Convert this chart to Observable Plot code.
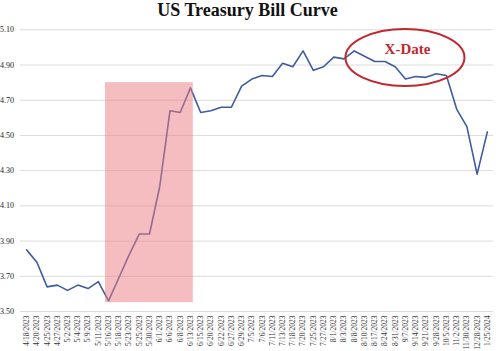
<!DOCTYPE html>
<html><head><meta charset="utf-8">
<script src="https://cdn.jsdelivr.net/npm/d3@7"></script>
<script src="https://cdn.jsdelivr.net/npm/@observablehq/plot@0.6"></script>
<style>
body{margin:0;background:#fff;}
#wrap{width:500px;height:351px;position:relative;overflow:hidden;}
#title{height:22px;font:bold 18px "Liberation Serif",serif;line-height:20px;text-align:center;padding-right:5px;color:#111;}
</style></head><body>
<div id="wrap"><div id="title">US Treasury Bill Curve</div><div id="chart"></div></div>
<script>
const maturities = ["4/18/2023","4/20/2023","4/25/2023","4/27/2023","5/2/2023","5/4/2023","5/9/2023","5/11/2023","5/16/2023","5/18/2023","5/23/2023","5/25/2023","5/30/2023","6/1/2023","6/6/2023","6/8/2023","6/13/2023","6/15/2023","6/20/2023","6/22/2023","6/27/2023","6/29/2023","7/5/2023","7/6/2023","7/11/2023","7/13/2023","7/18/2023","7/20/2023","7/25/2023","7/27/2023","8/1/2023","8/3/2023","8/8/2023","8/10/2023","8/17/2023","8/24/2023","8/31/2023","9/7/2023","9/14/2023","9/21/2023","9/28/2023","10/5/2023","11/2/2023","11/30/2023","12/28/2023","1/25/2024"];
const yields = [3.85,3.78,3.64,3.65,3.62,3.65,3.63,3.67,3.56,3.69,3.82,3.94,3.94,4.21,4.64,4.63,4.77,4.63,4.64,4.66,4.66,4.78,4.82,4.84,4.835,4.91,4.89,4.98,4.87,4.89,4.945,4.935,4.98,4.95,4.92,4.92,4.89,4.82,4.835,4.83,4.85,4.84,4.65,4.55,4.28,4.52];
const yTicks = [3.50,3.70,3.90,4.10,4.30,4.50,4.70,4.90,5.10];
const shadeFrom = "5/16/2023", shadeTo = "6/13/2023";
const shadeLow = 3.55, shadeHigh = 4.80;
const noteLabel = "X-Date";
const noteAt = "9/7/2023", noteYield = 4.94;

const idx = d => maturities.indexOf(d);
const rows = maturities.map((m, i) => ({i, m, v: yields[i]}));
const serif = '"Liberation Serif", serif';

const plot = Plot.plot({
  width: 500, height: 329,
  marginTop: 7.3, marginBottom: 40, marginLeft: 20, marginRight: 7,
  style: {fontFamily: serif, background: "#fff"},
  x: {domain: [-0.6, 45.6], axis: null},
  y: {domain: [3.5, 5.1], axis: null},
  marks: [
    Plot.ruleY(yTicks, {stroke: "#dcdcdc", strokeWidth: 1}),
    Plot.axisY({ticks: yTicks, tickFormat: d3.format(".2f"), tickSize: 0, tickPadding: 6.5, fontSize: 8, fill: "#222", fontFamily: serif}),
    Plot.axisX({ticks: d3.range(maturities.length), tickFormat: i => maturities[i], tickRotate: -90, tickSize: 0, tickPadding: 4, fontSize: 7.5, fill: "#333", fontFamily: serif}),
    Plot.line(rows, {x: "i", y: "v", stroke: "#3f5c9e", strokeWidth: 1.6}),
    Plot.rect([{x1: idx(shadeFrom) - 0.3, x2: idx(shadeTo) + 0.28, y1: shadeLow, y2: shadeHigh}], {x1: "x1", x2: "x2", y1: "y1", y2: "y2", fill: "#ee7c84", fillOpacity: 0.5}),
    (index, scales) => {
      const e = document.createElementNS("http://www.w3.org/2000/svg", "ellipse");
      e.setAttribute("cx", scales.x(idx(noteAt)));
      e.setAttribute("cy", scales.y(noteYield));
      e.setAttribute("rx", 59.5);
      e.setAttribute("ry", 28.5);
      e.setAttribute("fill", "none");
      e.setAttribute("stroke", "#c1272d");
      e.setAttribute("stroke-width", 2);
      return e;
    },
    Plot.text([noteLabel], {x: () => idx(noteAt) + 0.2, y: () => noteYield, text: d => d, dy: -9, fill: "#c1272d", fontWeight: "bold", fontSize: 15, fontFamily: serif})
  ]
});
document.getElementById("chart").appendChild(plot);
</script>
</body></html>
